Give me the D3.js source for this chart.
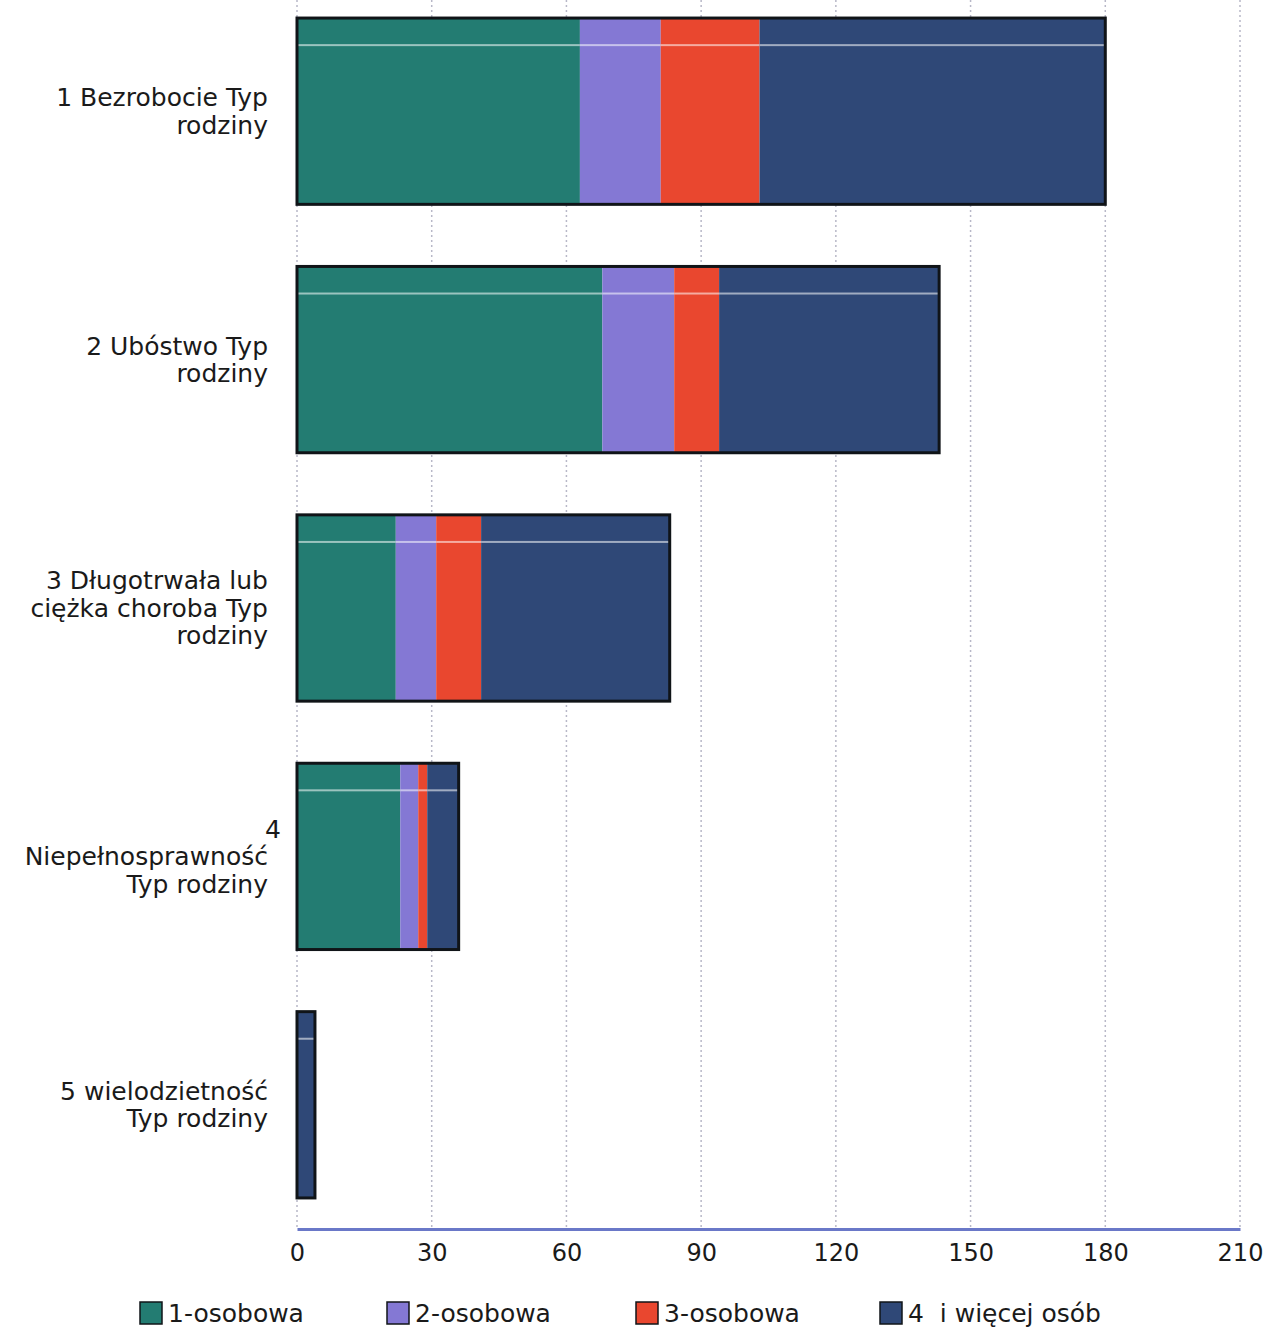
<!DOCTYPE html>
<html><head><meta charset="utf-8">
<script src="https://cdn.jsdelivr.net/npm/d3@7"></script>
<style>body{margin:0;background:#fff} text{white-space:pre}</style>
</head><body>
<svg id="c" width="1268" height="1331"></svg>
<script>
const categories = ["1 Bezrobocie Typ rodziny","2 Ubóstwo Typ rodziny","3 Długotrwała lub ciężka choroba Typ rodziny","4 Niepełnosprawność Typ rodziny","5 wielodzietność Typ rodziny"];
const labelLines = [["1 Bezrobocie Typ","rodziny"],["2 Ubóstwo Typ","rodziny"],["3 Długotrwała lub","ciężka choroba Typ","rodziny"],["4","Niepełnosprawność","Typ rodziny"],["5 wielodzietność","Typ rodziny"]];
const seriesNames = ["1-osobowa","2-osobowa","3-osobowa","4  i więcej osób"];
const s1 = [63, 68, 22, 23, 0];
const s2 = [18, 16, 9, 4, 0];
const s3 = [22, 10, 10, 2, 0];
const s4 = [77, 49, 42, 7, 4];
const xTicks = [0,30,60,90,120,150,180,210];
const colors = ["#237c72","#8478d4","#e9472f","#2f4877"];

const svg = d3.select("#c");
const font = "DejaVu Sans, Verdana, sans-serif";
const x = d3.scaleLinear().domain([0,210]).range([297,1240]);
const y = d3.scaleBand().domain(categories).range([-13,1229]).paddingInner(0.25).paddingOuter(0.125);

// grid
svg.append("g").selectAll("line").data(xTicks).join("line")
  .attr("x1",d=>x(d)).attr("x2",d=>x(d)).attr("y1",0).attr("y2",1228)
  .attr("stroke","#b8b8c8").attr("stroke-width",1.5).attr("stroke-dasharray","2,3");

const table = categories.map((c,i)=>({cat:c, "1-osobowa":s1[i], "2-osobowa":s2[i], "3-osobowa":s3[i], "4  i więcej osób":s4[i]}));
const stacked = d3.stack().keys(seriesNames)(table);

const bars = svg.append("g");
stacked.forEach((layer,k)=>{
  bars.append("g").selectAll("rect").data(layer).join("rect")
    .attr("x",d=>x(d[0])).attr("width",d=>x(d[1])-x(d[0]))
    .attr("y",d=>y(d.data.cat)).attr("height",y.bandwidth())
    .attr("fill",colors[k]);
  bars.append("g").selectAll("rect").data(layer.filter(d=>d[1]>d[0])).join("rect")
    .attr("x",d=>x(d[0])).attr("width",d=>x(d[1])-x(d[0]))
    .attr("y",d=>y(d.data.cat)+y.bandwidth()*0.14).attr("height",2)
    .attr("fill","#ffffff").attr("opacity",0.55);
});
bars.append("g").selectAll("rect").data(table).join("rect")
  .attr("x",x(0)).attr("width",d=>x(d["1-osobowa"]+d["2-osobowa"]+d["3-osobowa"]+d["4  i więcej osób"])-x(0))
  .attr("y",d=>y(d.cat)).attr("height",y.bandwidth())
  .attr("fill","none").attr("stroke","#101418").attr("stroke-width",3);

// category labels
const lab = svg.append("g").attr("font-family",font).attr("font-size",25).attr("fill","#1a1a1a").attr("text-anchor","end");
categories.forEach((c,i)=>{
  const lines = labelLines[i];
  const cy = y(c)+y.bandwidth()/2;
  const lh = 27.5;
  lines.forEach((t,j)=>{
    lab.append("text").attr("x", i===3 && j===0 ? 281 : 268)
      .attr("y", cy + (j-(lines.length-1)/2)*lh).attr("dy","0.35em").text(t);
  });
});

// x axis
const ax = svg.append("g").attr("transform","translate(0,1229)")
  .call(d3.axisBottom(x).tickValues(xTicks).tickSize(0).tickPadding(15));
ax.select(".domain").attr("stroke","#6a78c8").attr("stroke-width",3);
ax.selectAll("text").attr("font-family",font).attr("font-size",24).attr("fill","#1a1a1a");

// legend
const legX = [140,387,636,880];
const leg = svg.append("g").attr("font-family",font).attr("font-size",25).attr("fill","#1a1a1a");
seriesNames.forEach((n,i)=>{
  leg.append("rect").attr("x",legX[i]).attr("y",1302).attr("width",22).attr("height",22)
    .attr("fill",colors[i]).attr("stroke","#101418").attr("stroke-width",1.5);
  leg.append("text").attr("x",legX[i]+28).attr("y",1313).attr("dy","0.35em").text(n);
});
</script>
</body></html>
